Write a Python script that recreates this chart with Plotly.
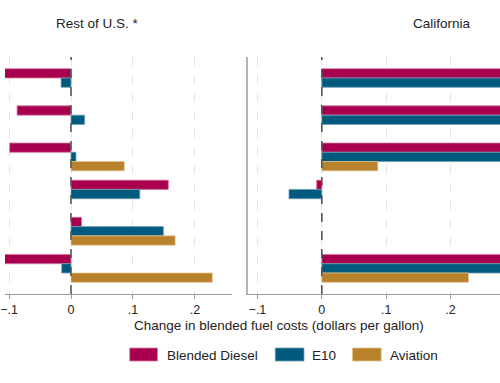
import plotly.graph_objects as go

groups = ["Group 1", "Group 2", "Group 3", "Group 4", "Group 5", "Group 6"]
series = ["Blended Diesel", "E10", "Aviation"]
rest_diesel = [-0.14, -0.087, -0.099, 0.157, 0.017, -0.14]
rest_e10 = [-0.016, 0.022, 0.008, 0.111, 0.149, -0.015]
rest_aviation = [None, None, 0.086, None, 0.168, 0.228]
ca_diesel = [0.35, 0.35, 0.35, -0.008, None, 0.35]
ca_e10 = [0.35, 0.35, 0.35, -0.051, None, 0.35]
ca_aviation = [None, None, 0.087, None, None, 0.228]
tick_vals = [-0.1, 0, 0.1, 0.2]
tick_text = ["\u2212.1", "0", ".1", ".2"]

colors = ["#A8004F", "#005A7E", "#B8812B"]
outlines = ["#D07A9E", "#6F9DB3", "#E2C48E"]

fig = go.Figure()
for vals, ax in [((rest_diesel, rest_e10, rest_aviation), ("x", "y")),
                 ((ca_diesel, ca_e10, ca_aviation), ("x2", "y2"))]:
    for name, v, c, oc in zip(series, vals, colors, outlines):
        fig.add_trace(go.Bar(
            y=groups, x=v, orientation="h", name=name,
            marker=dict(color=c, line=dict(color=oc, width=0.8)),
            xaxis=ax[0], yaxis=ax[1], showlegend=False,
        ))

font = dict(family="Liberation Sans, Arial, sans-serif", size=13, color="#222")
ydom = [(383 - 294) / 383, (383 - 57) / 383]
xcommon = dict(
    tickvals=tick_vals, ticktext=tick_text, showgrid=True, gridcolor="#E4E4E4",
    griddash="dash", gridwidth=1, zeroline=False, showline=True, linecolor="#9A9A9A",
    linewidth=1.3, ticks="outside", ticklen=4, tickcolor="#9A9A9A", tickwidth=1.2,
    ticklabeloverflow="allow", ticklabelstandoff=0,
    tickfont=dict(family=font["family"], size=12.5, color="#222"),
)
ycommon = dict(type="category", categoryorder="array", categoryarray=groups,
               range=[5.69, -0.69], showticklabels=False, showgrid=False,
               zeroline=False, ticks="", domain=ydom)

fig.update_layout(
    width=500, height=383, margin=dict(l=0, r=0, t=0, b=0),
    paper_bgcolor="white", plot_bgcolor="white", font=font,
    barmode="group", bargap=0.25, bargroupgap=0,
    xaxis=dict(domain=[0, 229 / 500], range=[-0.1065, 0.2593], anchor="y", **xcommon),
    xaxis2=dict(domain=[245 / 500, 1], range=[-0.1154, 0.2769], anchor="y2", **xcommon),
    yaxis=dict(anchor="x", showline=False, **ycommon),
    yaxis2=dict(anchor="x2", showline=True, linecolor="#B5B5B5", linewidth=2, **ycommon),
)

for xr, yr in [("x", "y"), ("x2", "y2")]:
    fig.add_shape(type="line", xref=xr, yref=yr + " domain", x0=0, x1=0, y0=0, y1=1,
                  line=dict(color="#555", width=1.6, dash="dash"), layer="above")

fig.add_annotation(text="Rest of U.S. *", x=93 / 500, y=1 - 24 / 383, xref="paper", yref="paper",
                   showarrow=False, font=dict(size=13.5, color="#222"), xanchor="center", yanchor="middle")
fig.add_annotation(text="California", x=441 / 500, y=1 - 24 / 383, xref="paper", yref="paper",
                   showarrow=False, font=dict(size=13.5, color="#222"), xanchor="center", yanchor="middle")
fig.add_annotation(text="Change in blended fuel costs (dollars per gallon)", x=277 / 500, y=1 - 325 / 383,
                   xref="paper", yref="paper", showarrow=False, font=dict(size=13.5, color="#222"),
                   xanchor="center", yanchor="middle")

# custom legend
sw = [(126, 154, 162), (273, 302, 308), (351, 380, 387)]
for (x0, x1, tx), name, c, oc in zip(sw, series, colors, outlines):
    fig.add_shape(type="rect", xref="paper", yref="paper", x0=x0 / 500, x1=x1 / 500,
                  y0=1 - 361 / 383, y1=1 - 348 / 383, fillcolor=c, line=dict(color=oc, width=0.8))
    fig.add_annotation(text=name, x=tx / 500, y=1 - 355 / 383, xref="paper", yref="paper",
                       showarrow=False, xanchor="left", yanchor="middle",
                       font=dict(size=13.5, color="#222"))

fig.write_html("out.html", config={"displayModeBar": False},
               post_script="document.body.style.margin='0';document.body.style.overflow='hidden';")
